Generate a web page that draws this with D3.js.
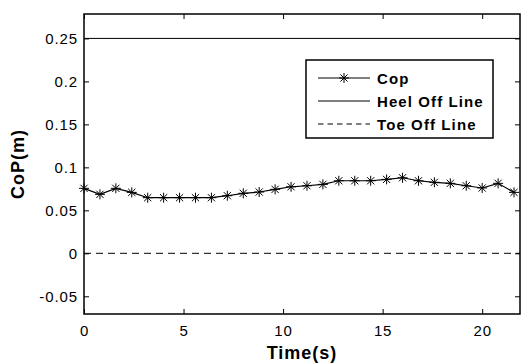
<!DOCTYPE html>
<html>
<head>
<meta charset="utf-8">
<script src="https://cdn.jsdelivr.net/npm/d3@7"></script>
<style>
  body { margin: 0; background: #fff; }
  text { font-family: "Liberation Sans", Arial, sans-serif; fill: #000; }
</style>
</head>
<body>
<svg id="chart" width="522" height="363"></svg>
<script>
// data
const times = [0, 0.8, 1.6, 2.4, 3.2, 4.0, 4.8, 5.6, 6.4, 7.2, 8.0, 8.8, 9.6, 10.4,
  11.2, 12.0, 12.8, 13.6, 14.4, 15.2, 16.0, 16.8, 17.6, 18.4, 19.2, 20.0, 20.8, 21.6];
const cop = [0.0756, 0.0686, 0.0756, 0.0709, 0.0647, 0.0647, 0.0647, 0.0647, 0.0647, 0.0670,
  0.0698, 0.0713, 0.0744, 0.0774, 0.0786, 0.0802, 0.0844, 0.0844, 0.0844, 0.0860,
  0.0879, 0.0844, 0.0826, 0.0814, 0.0786, 0.0760, 0.0814, 0.0709];
const heelOff = 0.25;
const toeOff = 0;
const xTicks = [0, 5, 10, 15, 20];
const yTicks = [-0.05, 0, 0.05, 0.1, 0.15, 0.2, 0.25];
const legendLabels = ["Cop", "Heel Off Line", "Toe Off Line"];

const svg = d3.select("#chart");
const plotL = 84, plotR = 520, plotT = 14, plotB = 314;

const x = d3.scaleLinear().domain([0, 21.9]).range([plotL, plotR]);
const y = d3.scaleLinear().domain([-0.0706, 0.2784]).range([plotB, plotT]);

// axes, ticks pointing inward
const tickLen = 5;
const yFmt = d => d === 0 ? "0" : String(+d.toFixed(2));

svg.append("g")
  .attr("transform", `translate(0,${plotB})`)
  .call(d3.axisBottom(x).tickValues(xTicks).tickSize(-tickLen).tickPadding(11).tickFormat(d3.format("d")))
  .call(g => g.select(".domain").remove());
svg.append("g")
  .attr("transform", `translate(0,${plotT})`)
  .call(d3.axisTop(x).tickValues(xTicks).tickSize(-tickLen).tickFormat(""))
  .call(g => g.select(".domain").remove());
svg.append("g")
  .attr("transform", `translate(${plotL},0)`)
  .call(d3.axisLeft(y).tickValues(yTicks).tickSize(-tickLen).tickPadding(6).tickFormat(yFmt))
  .call(g => g.select(".domain").remove());
svg.append("g")
  .attr("transform", `translate(${plotR},0)`)
  .call(d3.axisRight(y).tickValues(yTicks).tickSize(-tickLen).tickFormat(""))
  .call(g => g.select(".domain").remove());

svg.selectAll(".tick line").attr("stroke", "#000").attr("stroke-width", 1);
svg.selectAll(".tick text")
  .attr("font-family", "'Liberation Sans', Arial, sans-serif")
  .attr("font-size", 15)
  .attr("letter-spacing", 0.9)
  .attr("fill", "#000");

// reference lines
svg.append("line")
  .attr("x1", plotL).attr("x2", plotR)
  .attr("y1", y(heelOff)).attr("y2", y(heelOff))
  .attr("stroke", "#000").attr("stroke-width", 1);
svg.append("line")
  .attr("x1", plotL).attr("x2", plotR)
  .attr("y1", y(toeOff)).attr("y2", y(toeOff))
  .attr("stroke", "#000").attr("stroke-width", 1)
  .attr("stroke-dasharray", "7,5");

// CoP series
const pts = times.map((t, i) => [t, cop[i]]);
svg.append("path")
  .datum(pts)
  .attr("fill", "none")
  .attr("stroke", "#000")
  .attr("stroke-width", 1.2)
  .attr("d", d3.line().x(d => x(d[0])).y(d => y(d[1])));

// asterisk marker
function star(cx, cy, r) {
  const d = r * 0.72;
  return `M${cx},${cy - r}L${cx},${cy + r}` +
    `M${cx - r},${cy}L${cx + r},${cy}` +
    `M${cx - d},${cy - d}L${cx + d},${cy + d}` +
    `M${cx - d},${cy + d}L${cx + d},${cy - d}`;
}
svg.append("g").selectAll("path")
  .data(pts)
  .join("path")
  .attr("d", d => star(x(d[0]), y(d[1]), 5))
  .attr("stroke", "#000")
  .attr("stroke-width", 1)
  .attr("fill", "none");

// box
svg.append("rect")
  .attr("x", plotL).attr("y", plotT)
  .attr("width", plotR - plotL).attr("height", plotB - plotT)
  .attr("fill", "none").attr("stroke", "#000").attr("stroke-width", 1.5);

// legend
const lg = svg.append("g");
lg.append("rect")
  .attr("x", 306).attr("y", 60).attr("width", 187).attr("height", 78)
  .attr("fill", "#fff").attr("stroke", "#000").attr("stroke-width", 1.5);
const rowY = [78, 101, 124];
legendLabels.forEach((lab, i) => {
  const ln = lg.append("line")
    .attr("x1", 318).attr("x2", 370)
    .attr("y1", rowY[i]).attr("y2", rowY[i])
    .attr("stroke", "#000").attr("stroke-width", 1);
  if (i === 2) ln.attr("stroke-dasharray", "5.5,4");
  if (i === 0) {
    lg.append("path").attr("d", star(344, rowY[i], 5))
      .attr("stroke", "#000").attr("stroke-width", 1).attr("fill", "none");
  }
  lg.append("text")
    .attr("x", 377).attr("y", rowY[i] + 5.5)
    .attr("font-size", 15).attr("font-weight", "bold")
    .attr("letter-spacing", 1.1)
    .text(lab);
});

// axis titles
svg.append("text")
  .attr("x", (plotL + plotR) / 2).attr("y", 359)
  .attr("text-anchor", "middle")
  .attr("font-size", 18).attr("font-weight", "bold")
  .attr("letter-spacing", 1)
  .text("Time(s)");
svg.append("text")
  .attr("transform", `translate(24,${(plotT + plotB) / 2}) rotate(-90)`)
  .attr("text-anchor", "middle")
  .attr("font-size", 18).attr("font-weight", "bold")
  .attr("letter-spacing", 1)
  .text("CoP(m)");
</script>
</body>
</html>
